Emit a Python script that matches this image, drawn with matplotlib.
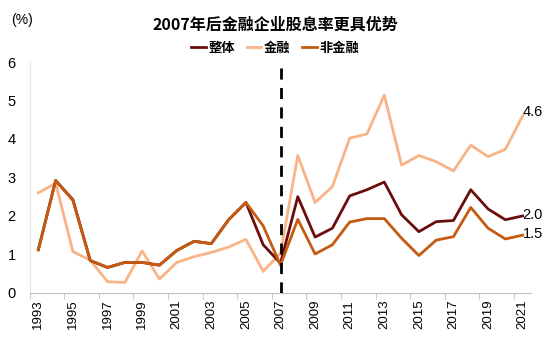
import matplotlib
matplotlib.use('Agg')
import matplotlib.pyplot as plt
import numpy as np

plt.rcParams['font.family'] = ['Noto Sans CJK SC', 'DejaVu Sans']

# 数据
years = list(range(1993, 2022))
overall = [1.12, 2.92, 2.42, 0.84, 0.66, 0.79, 0.79, 0.72, 1.10, 1.34, 1.28, 1.90, 2.35, 1.25, 0.77,
           2.50, 1.45, 1.68, 2.52, 2.68, 2.88, 2.03, 1.59, 1.85, 1.88, 2.68, 2.18, 1.90, 2.0]
financial = [2.60, 2.85, 1.07, 0.85, 0.29, 0.27, 1.09, 0.36, 0.79, 0.94, 1.05, 1.19, 1.39, 0.56, 1.03,
             3.57, 2.35, 2.76, 4.02, 4.13, 5.14, 3.32, 3.57, 3.41, 3.17, 3.84, 3.54, 3.73, 4.6]
nonfin = [1.12, 2.92, 2.40, 0.84, 0.66, 0.79, 0.79, 0.72, 1.10, 1.34, 1.28, 1.90, 2.35, 1.74, 0.72,
          1.91, 1.01, 1.25, 1.84, 1.93, 1.93, 1.42, 0.97, 1.37, 1.46, 2.22, 1.68, 1.40, 1.5]

c_all = '#6b0d0d'
c_fin = '#f8b486'
c_non = '#c55a11'
num_font = ['Liberation Sans', 'DejaVu Sans']

fig = plt.figure(figsize=(5.5, 3.37), dpi=100)
ax = fig.add_axes([0.054, 0.131, 0.912, 0.685])

x = np.arange(len(years))
ax.plot(x, financial, color=c_fin, lw=2, label='金融', zorder=2)
ax.plot(x, overall, color=c_all, lw=2, label='整体', zorder=3)
ax.plot(x, nonfin, color=c_non, lw=2, label='非金融', zorder=4)

# 2007 分界线
i07 = years.index(2007)
ax.plot([i07, i07], [0, 6], color='black', lw=2, ls=(0, (4, 3)), zorder=5)

ax.set_xlim(-0.5, len(years) - 0.5)
ax.set_ylim(0, 6)
ax.set_yticks(range(0, 7))
ax.set_yticklabels([str(v) for v in range(0, 7)], family=num_font, fontsize=10.5)
ax.tick_params(axis='y', length=0, pad=10)

ax.set_xticks(x[::2])
ax.set_xticklabels([str(y) for y in years[::2]], rotation=90, fontsize=9.5, family=num_font)
ax.set_xticks(np.arange(-0.5, len(years) - 1, 2), minor=True)
ax.tick_params(axis='x', which='major', length=0, pad=5)
ax.tick_params(axis='x', which='minor', length=4, color='#bfbfbf')

for s in ['top', 'right']:
    ax.spines[s].set_visible(False)
ax.spines['left'].set_color('#e6e6e6')
ax.spines['bottom'].set_color('#bfbfbf')

# 末端标注
ax.text(x[-1] + 0.0, financial[-1] + 0.1, '4.6', fontsize=10.5, va='center', family=num_font)
ax.text(x[-1] + 0.0, overall[-1] + 0.02, '2.0', fontsize=10.5, va='center', family=num_font)
ax.text(x[-1] + 0.0, nonfin[-1] + 0.02, '1.5', fontsize=10.5, va='center', family=num_font)

fig.text(0.5, 0.926, '2007年后金融企业股息率更具优势', ha='center', va='center',
         fontsize=11.5, fontweight='bold')
fig.text(0.02, 0.94, '(%)', ha='left', va='center', fontsize=10, family=num_font)

h, l = ax.get_legend_handles_labels()
order = [1, 0, 2]
fig.legend([h[i] for i in order], [l[i] for i in order], loc='center', bbox_to_anchor=(0.5, 0.858),
           ncol=3, frameon=False, handlelength=1.1, handletextpad=0.2,
           columnspacing=0.9, prop={'weight': 'bold', 'size': 9.5})

fig.savefig('out.png', dpi=100)
